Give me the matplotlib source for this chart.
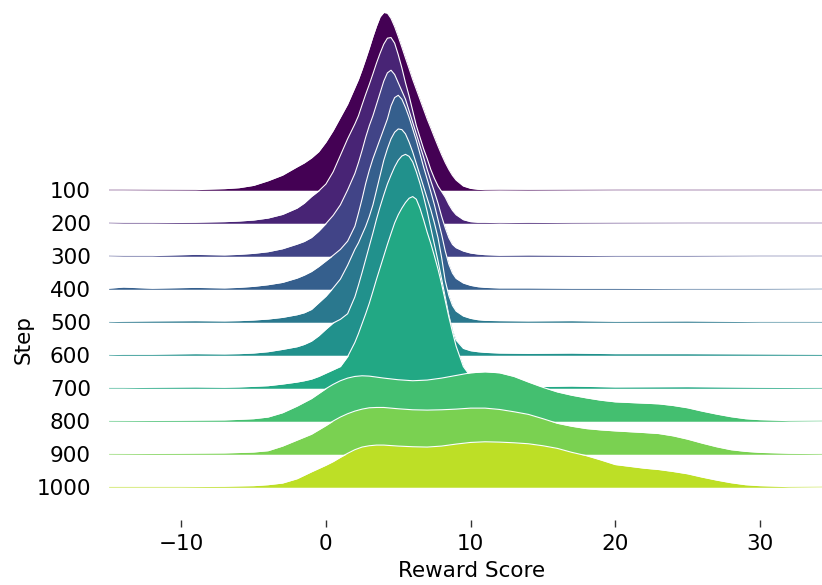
import numpy as np
import matplotlib.pyplot as plt

# step labels, top to bottom
steps = ["100", "200", "300", "400", "500", "600", "700", "800", "900", "1000"]

# x positions where the ridge heights were read (reward score)
x_narrow = [-15, -14, -12, -9, -7, -6, -5, -4, -3, -2, -1.5, -1, -0.5, 0, 0.5, 1, 1.5,
            2, 2.25, 2.5, 2.75, 3, 3.25, 3.5, 3.75, 4, 4.25, 4.5, 4.75, 5, 5.25, 5.5, 5.75,
            6, 6.25, 6.5, 6.75, 7, 7.25, 7.5, 7.75, 8, 8.25, 8.5, 8.75, 9,
            9.5, 10, 10.5, 11, 12, 14, 17, 20, 25, 30, 34.3]
x_wide = [-15, -10, -7, -5, -4, -3, -2, -1, 0, 0.5, 1, 1.5, 2, 2.5, 3, 3.5, 4, 5, 6, 7, 8, 9,
          10, 11, 12, 13, 14, 15, 16, 17, 18, 19, 20, 22, 23, 24, 25, 26, 27, 28, 29, 30, 32, 34.3]

# ridge heights (in units of the row spacing)
step_100 = [0, 0, 0.005, 0.01, 0.04, 0.07, 0.14, 0.28, 0.45, 0.7, 0.82, 0.97, 1.16, 1.45, 1.8, 2.2, 2.6,
            3.1, 3.35, 3.65, 3.97, 4.3, 4.65, 4.97, 5.25, 5.38, 5.36, 5.2, 4.95, 4.65, 4.33, 4.0, 3.68,
            3.35, 3.05, 2.75, 2.45, 2.15, 1.88, 1.6, 1.33, 1.07, 0.83, 0.62, 0.44, 0.3,
            0.12, 0.05, 0.02, 0.01, 0.005, 0.01, 0.005, 0, 0, 0, 0]
step_200 = [0, 0.01, 0.01, 0.02, 0.04, 0.06, 0.09, 0.15, 0.26, 0.45, 0.6, 0.8, 0.97, 1.18, 1.55, 2.05, 2.55,
            3.0, 3.25, 3.58, 3.9, 4.2, 4.52, 4.85, 5.15, 5.42, 5.6, 5.62, 5.45, 5.1, 4.7, 4.25, 3.85,
            3.4, 2.95, 2.6, 2.25, 1.95, 1.62, 1.35, 1.12, 0.95, 0.78, 0.56, 0.38, 0.25,
            0.1, 0.04, 0.02, 0.02, 0.01, 0.02, 0.01, 0.005, 0, 0, 0]
step_300 = [0, 0.01, 0.01, 0.05, 0.03, 0.05, 0.08, 0.13, 0.22, 0.36, 0.44, 0.56, 0.75, 0.98, 1.23, 1.55, 2.0,
            2.5, 2.83, 3.2, 3.6, 3.95, 4.25, 4.6, 4.95, 5.3, 5.55, 5.63, 5.5, 5.25, 5.0, 4.75, 4.4,
            4.05, 3.7, 3.35, 3.0, 2.62, 2.28, 1.95, 1.6, 1.2, 0.85, 0.55, 0.35, 0.25,
            0.15, 0.09, 0.06, 0.04, 0.02, 0.03, 0.02, 0.01, 0.01, 0, 0]
step_400 = [0.02, 0.06, 0.02, 0.05, 0.03, 0.05, 0.08, 0.13, 0.2, 0.33, 0.42, 0.53, 0.68, 0.85, 1.02, 1.2, 1.45,
            1.9, 2.3, 2.73, 3.2, 3.6, 3.95, 4.25, 4.55, 4.85, 5.15, 5.55, 5.8, 5.87, 5.75, 5.5, 5.2,
            4.85, 4.5, 4.1, 3.7, 3.33, 2.95, 2.55, 2.1, 1.65, 1.15, 0.75, 0.48, 0.32,
            0.18, 0.11, 0.07, 0.05, 0.03, 0.03, 0.02, 0.02, 0.01, 0.01, 0]
step_500 = [0.01, 0.02, 0.03, 0.04, 0.03, 0.04, 0.06, 0.09, 0.14, 0.22, 0.28, 0.38, 0.58, 0.78, 1.03, 1.3, 1.72,
            2.2, 2.4, 2.65, 2.9, 3.2, 3.55, 4.0, 4.45, 4.9, 5.25, 5.55, 5.75, 5.85, 5.83, 5.7, 5.45,
            5.15, 4.8, 4.45, 4.1, 3.75, 3.4, 3.0, 2.55, 1.95, 1.25, 0.8, 0.5, 0.33,
            0.18, 0.11, 0.07, 0.05, 0.04, 0.03, 0.04, 0.02, 0.03, 0.01, 0.01]
step_600 = [0.01, 0.02, 0.02, 0.04, 0.03, 0.04, 0.06, 0.1, 0.17, 0.25, 0.32, 0.42, 0.58, 0.78, 0.97, 1.08, 1.25,
            1.76, 2.12, 2.5, 2.9, 3.3, 3.7, 4.12, 4.5, 4.85, 5.18, 5.45, 5.7, 5.9, 6.03, 6.08, 6.02,
            5.85, 5.55, 5.2, 4.8, 4.35, 3.85, 3.35, 2.85, 2.3, 1.75, 1.2, 0.75, 0.45,
            0.2, 0.13, 0.1, 0.08, 0.06, 0.05, 0.06, 0.04, 0.04, 0.03, 0.02]
step_700 = [0.01, 0.01, 0.02, 0.03, 0.02, 0.03, 0.05, 0.07, 0.12, 0.18, 0.22, 0.27, 0.35, 0.45, 0.55, 0.65, 0.95,
            1.38, 1.65, 1.95, 2.25, 2.57, 2.93, 3.3, 3.65, 4.0, 4.35, 4.68, 5.0, 5.25, 5.45, 5.62, 5.75,
            5.8, 5.72, 5.45, 5.1, 4.72, 4.38, 4.0, 3.6, 3.15, 2.65, 2.15, 1.7, 1.27,
            0.65, 0.35, 0.2, 0.12, 0.06, 0.04, 0.06, 0.03, 0.04, 0.02, 0.01]
step_800 = [0.01, 0.02, 0.03, 0.07, 0.12, 0.25, 0.45, 0.68, 0.98, 1.11, 1.22, 1.3, 1.35, 1.37, 1.36, 1.33,
            1.3, 1.25, 1.22, 1.24, 1.3, 1.38, 1.46, 1.49, 1.46, 1.35, 1.18, 1.02, 0.88, 0.78, 0.7, 0.63,
            0.58, 0.54, 0.52, 0.47, 0.4, 0.3, 0.21, 0.13, 0.07, 0.04, 0.01, 0]
step_900 = [0.01, 0.02, 0.03, 0.06, 0.1, 0.24, 0.42, 0.6, 0.86, 1.0, 1.12, 1.22, 1.3, 1.36, 1.4, 1.41,
            1.41, 1.37, 1.34, 1.33, 1.34, 1.36, 1.39, 1.39, 1.35, 1.28, 1.2, 1.07, 0.93, 0.84, 0.77, 0.73,
            0.7, 0.65, 0.62, 0.55, 0.45, 0.33, 0.22, 0.13, 0.08, 0.05, 0.02, 0.01]
step_1000 = [0.01, 0.01, 0.02, 0.04, 0.07, 0.12, 0.25, 0.46, 0.66, 0.77, 0.9, 1.02, 1.13, 1.21, 1.25, 1.27,
             1.27, 1.24, 1.22, 1.21, 1.24, 1.3, 1.35, 1.37, 1.36, 1.34, 1.31, 1.25, 1.17, 1.05, 0.95, 0.82,
             0.68, 0.57, 0.53, 0.47, 0.4, 0.3, 0.21, 0.13, 0.07, 0.04, 0.01, 0]

ridges = [step_100, step_200, step_300, step_400, step_500, step_600, step_700,
          step_800, step_900, step_1000]
grids = [x_narrow] * 7 + [x_wide] * 3

colors = plt.cm.viridis(np.linspace(0, 0.9, len(steps)))

fig = plt.figure(figsize=(8.22, 5.85), dpi=100)
ax = fig.add_axes([109 / 822, 65 / 585, 713 / 822, 520 / 585])

for i, (xs, hs) in enumerate(zip(grids, ridges)):
    base = -i
    xs = np.array(xs)
    top = base + np.array(hs)
    z = 2 * i + 1
    ax.plot(xs, np.full(len(xs), base), color=colors[i], lw=1.3, alpha=0.55, zorder=z)
    ax.fill_between(xs, base, top, color=colors[i], lw=0, zorder=z)
    ax.plot(xs, top, color="white", lw=0.8, zorder=z + 0.5)

ax.set_xlim(-15, 34.3)
ax.set_ylim(-10, 190 / 33)
ax.set_yticks([-i for i in range(len(steps))])
ax.set_yticklabels(steps)
ax.set_xticks([-10, 0, 10, 20, 30])
ax.tick_params(axis="y", length=0, pad=13, labelsize=15.5)
ax.tick_params(axis="x", length=5, width=1, pad=5, labelsize=15.5, color="#333333")
for s in ax.spines.values():
    s.set_visible(False)

fig.text(472 / 822, 1 - 571 / 585, "Reward Score", fontsize=15.5, ha="center", va="center")
fig.text(24 / 822, 1 - 340 / 585, "Step", rotation=90, fontsize=15.5,
         ha="center", va="center")

fig.savefig("out.png", dpi=100)
